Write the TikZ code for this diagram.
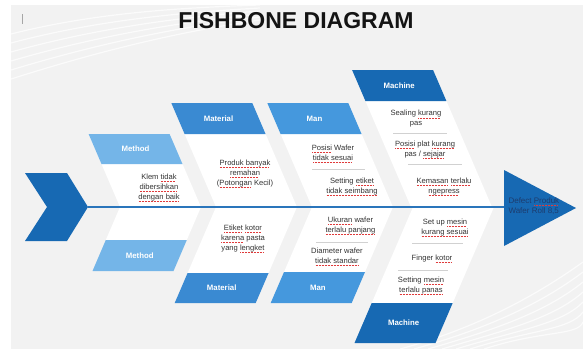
\documentclass[tikz,border=0pt]{standalone}
\usepackage{fontspec}
\setmainfont{Liberation Sans}
\usetikzlibrary{positioning}

\definecolor{slidebg}{HTML}{F2F2F2}
\definecolor{blueD}{HTML}{1769B3}
\definecolor{blueM}{HTML}{3A8AD2}
\definecolor{blueN}{HTML}{4598DD}
\definecolor{blueL}{HTML}{74B5E8}
\definecolor{spineblue}{HTML}{2A75BB}
\definecolor{navytxt}{HTML}{1D3C6E}
\definecolor{squig}{HTML}{E03A3A}

% red dotted mark under words (spell-check marks)
\newcommand\sq[1]{\setbox0=\hbox{#1}\rlap{\color{squig}\raisebox{-2.3pt}{\hbox to\wd0{\leaders\hbox to 1.5pt{\hss\rule{0.9pt}{0.5pt}\hss}\hfill}}}\box0\relax}

\begin{document}
\begin{tikzpicture}[
    x=1pt, y=-1pt,
    band/.style={fill=white},
    headtxt/.style={font=\fontsize{7.8}{9}\selectfont\bfseries, text=white},
    cause/.style={font=\fontsize{7.6}{10}\selectfont, align=center, text=black!80},
    sepline/.style={draw=black!18, line width=0.5pt},
    spine/.style={draw=spineblue, line width=2.2pt},
]
\useasboundingbox (0,0) rectangle (583,349);

% ===== SLIDE BACKGROUND =====
\fill[slidebg] (11,5) rectangle (583,349);
\foreach \k in {0,...,5}
  \draw[white, line width=1.2pt, opacity=0.7]
    (11,{34+9*\k}) .. controls (90,{14+8*\k}) and (170,{8+5*\k}) .. (260,{5+3*\k});
\foreach \k in {0,...,6}
  \draw[white, line width=1.2pt, opacity=0.7]
    ({400+14*\k},349) .. controls ({470+12*\k},330) and ({530+8*\k},{300+6*\k}) .. (583,{262+10*\k});
\draw[black!35, line width=0.8pt] (22,14) -- (22,24);

\node[font=\fontsize{23}{26}\selectfont\bfseries, text=black!92] (title) at (296,21) {FISHBONE DIAGRAM};

% ===== UPPER BONES =====
\fill[band] (120,207) -- (201,207) -- (169.6,134) -- (88.6,134) -- cycle;
\fill[band] (216,207) -- (297,207) -- (252.3,103) -- (171.3,103) -- cycle;
\fill[band] (312,207) -- (393,207) -- (348.3,103) -- (267.3,103) -- cycle;
\fill[band] (411,207) -- (492,207) -- (433.1,70) -- (352.1,70) -- cycle;

\fill[blueL] (88.6,134) -- (169.6,134) -- (182.5,164) -- (101.5,164) -- cycle;
\fill[blueM] (171.3,103) -- (252.3,103) -- (265.6,134) -- (184.6,134) -- cycle;
\fill[blueN] (267.3,103) -- (348.3,103) -- (361.6,134) -- (280.6,134) -- cycle;
\fill[blueD] (352.1,70) -- (433.1,70) -- (446.4,101) -- (365.4,101) -- cycle;

\node[headtxt] (mthU) at (135.5,149) {Method};
\node[headtxt] (matU) at (218.5,118.5) {Material};
\node[headtxt] (manU) at (314.5,118.5) {Man};
\node[headtxt] (macU) at (399.2,85.5) {Machine};

% ===== LOWER BONES =====
\fill[band] (120,207) -- (201,207) -- (186.8,240) -- (105.8,240) -- cycle;
\fill[band] (216,207) -- (297,207) -- (268.6,273) -- (187.6,273) -- cycle;
\fill[band] (312,207) -- (393,207) -- (365,272) -- (284,272) -- cycle;
\fill[band] (413,207) -- (494,207) -- (452.7,303) -- (371.7,303) -- cycle;

\fill[blueL] (105.8,240) -- (186.8,240) -- (173.5,271) -- (92.5,271) -- cycle;
\fill[blueM] (187.6,273) -- (268.6,273) -- (255.7,303) -- (174.7,303) -- cycle;
\fill[blueN] (284,272) -- (365,272) -- (351.7,303) -- (270.7,303) -- cycle;
\fill[blueD] (371.7,303) -- (452.7,303) -- (435.5,343) -- (354.5,343) -- cycle;

\node[headtxt] (mthL) at (139.7,255.5) {Method};
\node[headtxt] (matL) at (221.7,288) {Material};
\node[headtxt] (manL) at (317.9,287.5) {Man};
\node[headtxt] (macL) at (403.6,323) {Machine};

% ===== SEPARATORS =====
\draw[sepline] (312,169) -- (365,169);
\draw[sepline] (393,133) -- (447,133);
\draw[sepline] (408,164) -- (462,164);
\draw[sepline] (316,242) -- (368,242);
\draw[sepline] (412,243) -- (463,243);
\draw[sepline] (398,270) -- (448,270);

% ===== SPINE, TAIL, HEAD =====
\fill[blueD] (25,173) -- (67,173) -- (88,207) -- (67,241) -- (25,241) -- (47,207) -- cycle;
\fill[blueD] (504,170) -- (576,208) -- (504,246) -- cycle;
\coordinate (tail) at (88,207);
\coordinate (head) at (504,207);
\draw[spine] (tail) -- (head);

\node[font=\fontsize{8}{10}\selectfont, text=navytxt, align=left, anchor=west] (effect) at (505,206)
  {Defect \sq{Produk}\\Wafer Roll 8,5};

% ===== CAUSES =====
\node[cause] (klem) at (159,188) {Klem \sq{tidak}\\\sq{dibersihkan}\\\sq{dengan baik}};
\node[cause] (remah) at (245,174) {\sq{Produk banyak}\\\sq{remahan}\\(\sq{Potongan} Kecil)};
\node[cause] (posisi) at (333,154) {\sq{Posisi} Wafer\\\sq{tidak sesuai}};
\node[cause] (etiket) at (352,187) {Setting \sq{etiket}\\\sq{tidak seimbang}};
\node[cause] (sealing) at (416,119) {Sealing \sq{kurang}\\pas};
\node[cause] (plat) at (425,150) {\sq{Posisi} plat \sq{kurang}\\pas / \sq{sejajar}};
\node[cause] (kemas) at (444,186.5) {\sq{Kemasan} \sq{terlalu}\\\sq{ngepress}};

\node[cause] (kotor) at (243,239) {\sq{Etiket} \sq{kotor}\\\sq{karena} pasta\\yang \sq{lengket}};
\node[cause] (ukuran) at (350.5,226) {\sq{Ukuran} wafer\\\sq{terlalu panjang}};
\node[cause] (diam) at (337,257) {Diameter wafer\\\sq{tidak standar}};
\node[cause] (setup) at (445,228) {Set up \sq{mesin}\\\sq{kurang sesuai}};
\node[cause] (finger) at (432,259) {Finger \sq{kotor}};
\node[cause] (panas) at (421,285.5) {Setting \sq{mesin}\\\sq{terlalu panas}};

\end{tikzpicture}
\end{document}
